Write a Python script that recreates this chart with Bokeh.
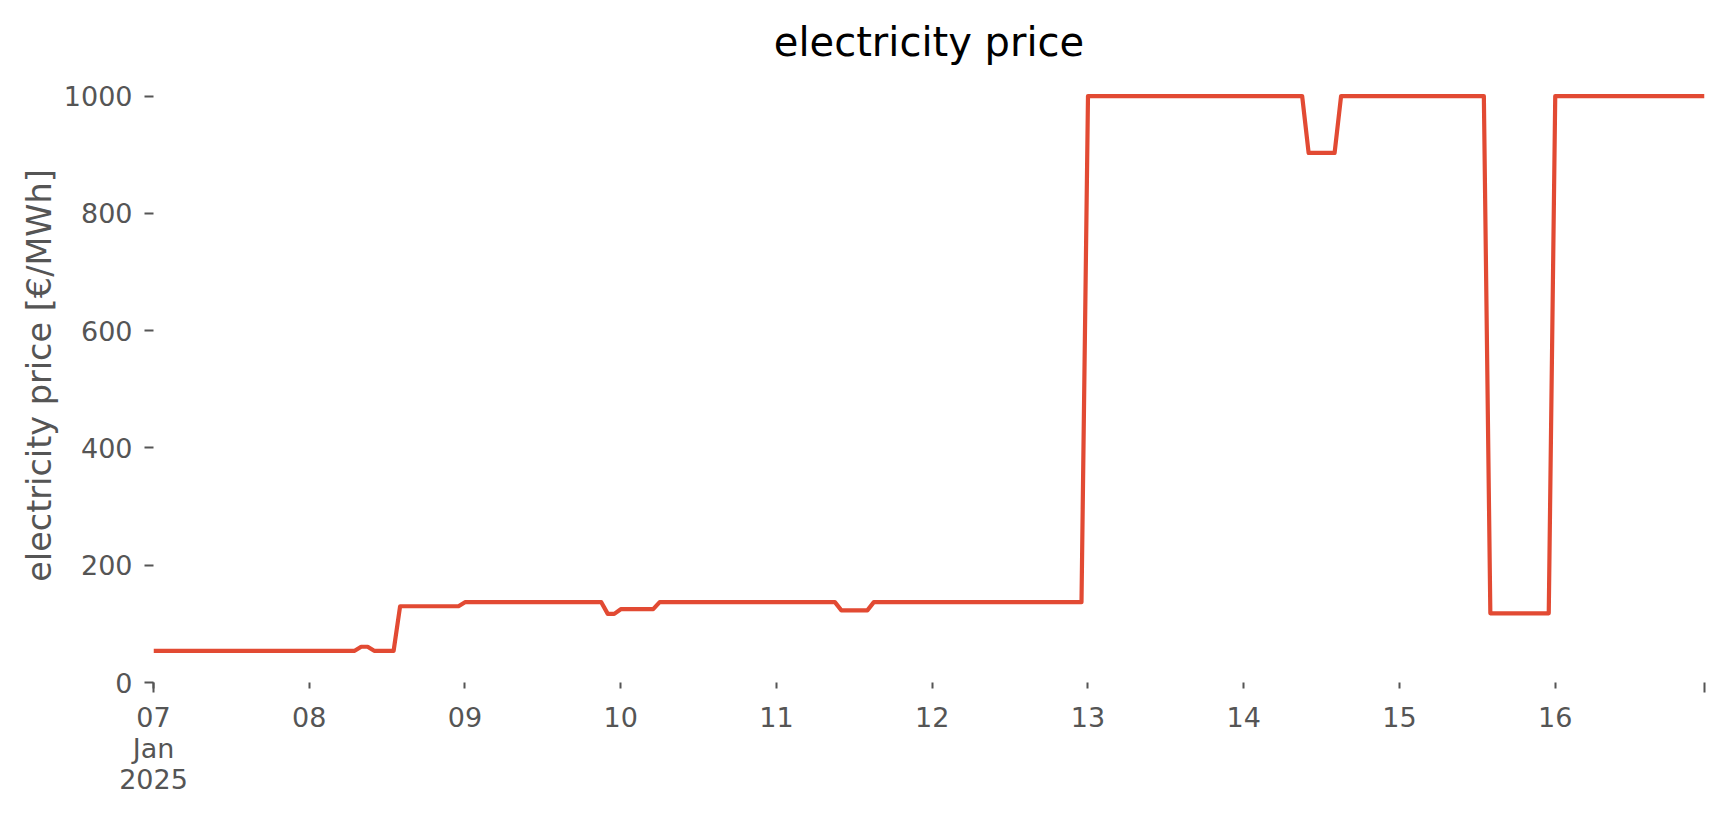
import pandas as pd
from bokeh.plotting import figure
from bokeh.models import FixedTicker, DatetimeTickFormatter, Range1d
from bokeh.embed import file_html
from bokeh.resources import INLINE

# ---- data (hourly electricity price, €/MWh) ----
start_time = "2025-01-07 00:00"
price = [
    54, 54, 54, 54, 54, 54, 54, 54, 54, 54, 54, 54, 54, 54, 54, 54, 54, 54, 54, 54, 54, 54, 54, 54,              # 07
    54, 54, 54, 54, 54, 54, 54, 54, 61, 61, 54, 54, 54, 54, 130, 130, 130, 130, 130, 130, 130, 130, 130, 130,     # 08
    137, 137, 137, 137, 137, 137, 137, 137, 137, 137, 137, 137, 137, 137, 137, 137, 137, 137, 137, 137, 137, 137, 117, 117,  # 09
    125, 125, 125, 125, 125, 125, 137, 137, 137, 137, 137, 137, 137, 137, 137, 137, 137, 137, 137, 137, 137, 137, 137, 137,  # 10
    137, 137, 137, 137, 137, 137, 137, 137, 137, 137, 123, 123, 123, 123, 123, 137, 137, 137, 137, 137, 137, 137, 137, 137,  # 11
    137, 137, 137, 137, 137, 137, 137, 137, 137, 137, 137, 137, 137, 137, 137, 137, 137, 137, 137, 137, 137, 137, 137, 137,  # 12
    1000, 1000, 1000, 1000, 1000, 1000, 1000, 1000, 1000, 1000, 1000, 1000, 1000, 1000, 1000, 1000, 1000, 1000, 1000, 1000, 1000, 1000, 1000, 1000,  # 13
    1000, 1000, 1000, 1000, 1000, 1000, 1000, 1000, 1000, 1000, 903, 903, 903, 903, 903, 1000, 1000, 1000, 1000, 1000, 1000, 1000, 1000, 1000,  # 14
    1000, 1000, 1000, 1000, 1000, 1000, 1000, 1000, 1000, 1000, 1000, 1000, 1000, 1000, 118, 118, 118, 118, 118, 118, 118, 118, 118, 118,  # 15
    1000, 1000, 1000, 1000, 1000, 1000, 1000, 1000, 1000, 1000, 1000, 1000, 1000, 1000, 1000, 1000, 1000, 1000, 1000, 1000, 1000, 1000, 1000, 1000,  # 16
]
times = pd.date_range(start_time, periods=len(price), freq="h")
y_ticks = [0, 200, 400, 600, 800, 1000]
x_tick_days = pd.date_range("2025-01-07", "2025-01-16", freq="D")

TXT = "#555555"
FONT = "DejaVu Sans"


def ms(ts):
    return int(pd.Timestamp(ts).value // 10**6)


p = figure(
    width=1712, height=815,
    x_axis_type="datetime",
    output_backend="svg", toolbar_location=None,
    x_range=Range1d(times[0], times[-1]),
    y_range=Range1d(0, 1047),
    min_border_left=153, min_border_right=8,
    min_border_top=68, min_border_bottom=133,
    background_fill_color="white", border_fill_color="white",
)

p.line(times, price, line_color="#E24A33", line_width=4.2, line_join="round")

p.title.text = "electricity price"
p.title.align = "center"
p.title.text_font = FONT
p.title.text_font_size = "40px"
p.title.text_font_style = "normal"
p.title.text_color = "black"
p.title.standoff = 8

p.grid.visible = False
p.outline_line_color = None

# y axis
ya = p.yaxis[0]
ya.ticker = FixedTicker(ticks=y_ticks)
ya.axis_label = "electricity price [€/MWh]"
ya.axis_label_text_font = FONT
ya.axis_label_text_font_size = "33.5px"
ya.axis_label_text_font_style = "normal"
ya.axis_label_text_color = TXT
ya.axis_label_standoff = 2
ya.major_label_text_font = FONT
ya.major_label_text_font_size = "27px"
ya.major_label_text_color = TXT
ya.major_label_standoff = 12
ya.axis_line_color = None
ya.major_tick_out = 9
ya.major_tick_in = 0
ya.major_tick_line_color = TXT
ya.major_tick_line_width = 2
ya.minor_tick_line_color = None

# x axis
xa = p.xaxis[0]
xa.ticker = FixedTicker(ticks=[ms(d) for d in x_tick_days],
                        minor_ticks=[ms(times[0]), ms(times[-1])])
ctx = DatetimeTickFormatter(
    microseconds="%b\n%Y", milliseconds="%b\n%Y", seconds="%b\n%Y", minsec="%b\n%Y",
    minutes="%b\n%Y", hourmin="%b\n%Y", hours="%b\n%Y", days="%b\n%Y",
    months="%b\n%Y", years="%b\n%Y",
)
xa.formatter = DatetimeTickFormatter(
    microseconds="%d", milliseconds="%d", seconds="%d", minsec="%d",
    minutes="%d", hourmin="%d", hours="%d", days="%d", months="%d", years="%d",
    context=ctx, context_which="start",
)
xa.major_label_text_font = FONT
xa.major_label_text_font_size = "27px"
xa.major_label_text_line_height = 1.0
xa.major_label_text_color = TXT
xa.major_label_standoff = 9
xa.axis_line_color = None
xa.major_tick_out = 6
xa.major_tick_in = 0
xa.major_tick_line_color = TXT
xa.major_tick_line_width = 2
xa.minor_tick_out = 10
xa.minor_tick_in = 0
xa.minor_tick_line_color = TXT
xa.minor_tick_line_width = 2

open("out.html", "w").write(file_html(p, INLINE))
